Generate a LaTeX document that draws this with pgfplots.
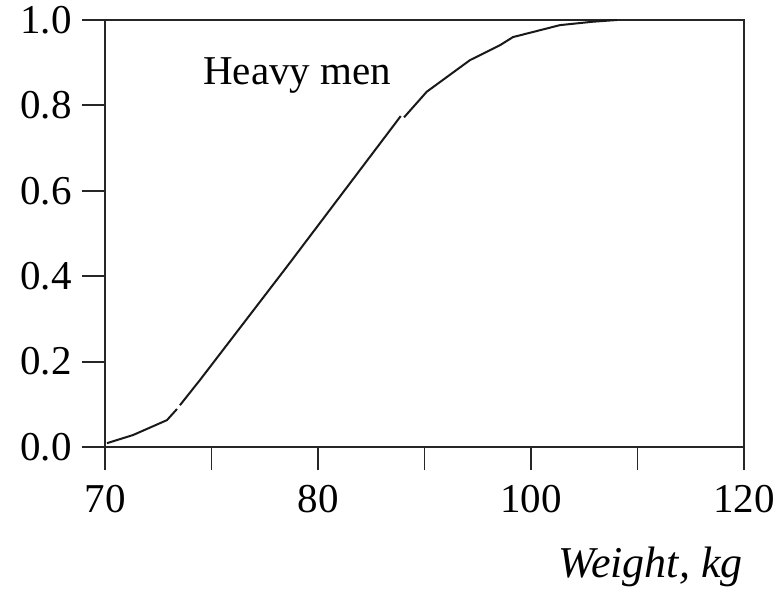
\documentclass[border=0pt]{standalone}
\usepackage{fontspec}
\setmainfont{Liberation Serif}
\usepackage{pgfplots}
\pgfplotsset{compat=1.18}

\begin{document}
\begin{tikzpicture}
\fontsize{20.5}{23}\selectfont
\begin{axis}[
    scale only axis,
    width=319.5pt,
    height=213.5pt,
    xmin=0, xmax=6,
    ymin=0, ymax=1,
    xtick={0,1,2,3,4,5,6},
    xticklabels={70,,80,,100,,120},
    ytick={0,0.2,0.4,0.6,0.8,1.0},
    /pgf/number format/assume math mode=true,
    /pgf/number format/fixed,
    /pgf/number format/fixed zerofill,
    /pgf/number format/precision=1,
    tick align=outside,
    major tick length=11.5pt,
    xtick pos=bottom,
    ytick pos=left,
    axis line style={line width=0.9pt, black!85},
    tick style={line width=0.9pt, black!85},
    xticklabel style={inner sep=0pt, yshift=-7.5pt},
    yticklabel style={inner sep=0pt, xshift=-5pt},
    xlabel={\fontsize{22}{24}\selectfont\itshape Weight, kg},
    xlabel style={at={(axis description cs:1,0)}, anchor=base east,
                  yshift=-65pt, xshift=-0.5pt, inner sep=0pt},
    clip=false,
]
% lower tail
\addplot[black!90, line width=1pt] coordinates {
    (0.019,0.009) (0.263,0.028) (0.582,0.063) (0.676,0.089)
};
% straight middle part
\addplot[black!90, line width=1pt] coordinates {
    (0.704,0.098) (0.892,0.157) (1.707,0.422) (2.777,0.775)
};
% upper tail
\addplot[black!90, line width=1pt] coordinates {
    (2.808,0.772) (3.021,0.832) (3.427,0.906) (3.709,0.941)
    (3.831,0.960) (4.272,0.988) (4.582,0.996) (4.808,1.0)
};
\node[anchor=base west, inner sep=0pt] at (axis cs:0.92,0.848) {Heavy men};
\path (rel axis cs:0,0) ++(-52.5pt,-70.5pt) coordinate (bl);
\path (rel axis cs:1,1) ++(18.5pt,10pt) coordinate (tr);
\end{axis}
\useasboundingbox (bl) rectangle (tr);
\end{tikzpicture}
\end{document}
